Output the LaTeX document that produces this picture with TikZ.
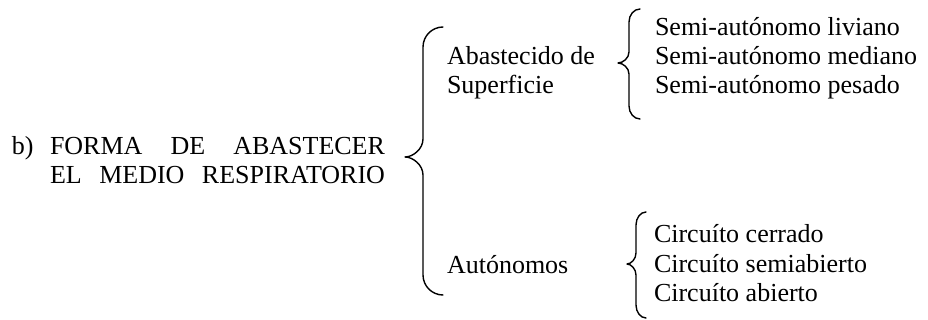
\documentclass[tikz,border=0pt]{standalone}
\usepackage{fontspec}
\setmainfont{Liberation Serif}
\newcommand{\drawbrace}[8]{%
 % #1 end x, #2 vertical x, #3 tip x, #4 top y, #5 tip y, #6 bottom y, #7 end height, #8 tip height
 \draw[bracestyle] (#1,#4) .. controls ({#1-0.55*(#1-#2)},#4) and (#2,{#4+0.45*#7}) .. (#2,{#4+#7})
 -- (#2,{#5-#8}) .. controls (#2,{#5-0.45*#8}) and ({#3+0.45*(#2-#3)},#5) .. (#3,#5)
 .. controls ({#3+0.45*(#2-#3)},#5) and (#2,{#5+0.45*#8}) .. (#2,{#5+#8})
 -- (#2,{#6-#7}) .. controls (#2,{#6-0.45*#7}) and ({#1-0.55*(#1-#2)},#6) .. (#1,#6);}
\begin{document}
\begin{tikzpicture}[x=1pt,y=-1pt,
  txt/.style={anchor=base west,inner sep=0pt,outer sep=0pt,font=\fontsize{26}{29}\selectfont},
  bracestyle/.style={line width=1.4pt,line cap=round,line join=round}]
\useasboundingbox[fill=white] (0,0) rectangle (928,320);
% left label
\node[txt] (b) at (12,155) {b)};
\node[txt] (l1) at (50,155) {\hbox to 335pt{FORMA\hfill DE\hfill ABASTECER}};
\node[txt] (l2) at (50,184) {\hbox to 335pt{EL\hfill MEDIO\hfill RESPIRATORIO}};
% big brace
\drawbrace{443}{423}{405}{27}{157}{295}{20}{18}
% middle level
\node[txt] (sup1) at (447,65) {Abastecido de};
\node[txt] (sup2) at (447,94) {Superficie};
\node[txt] (aut) at (447,273) {Autónomos};
% small braces
\drawbrace{640}{629}{618}{9}{63}{119}{13}{11}
\drawbrace{646}{636}{627}{212}{264}{318}{13}{11}
% right level
\node[txt] (s1) at (655,36) {Semi-autónomo liviano};
\node[txt] (s2) at (655,65) {Semi-autónomo mediano};
\node[txt] (s3) at (655,94) {Semi-autónomo pesado};
\node[txt] (c1) at (654,243) {Circuíto cerrado};
\node[txt] (c2) at (654,272) {Circuíto semiabierto};
\node[txt] (c3) at (654,301) {Circuíto abierto};
\end{tikzpicture}
\end{document}
